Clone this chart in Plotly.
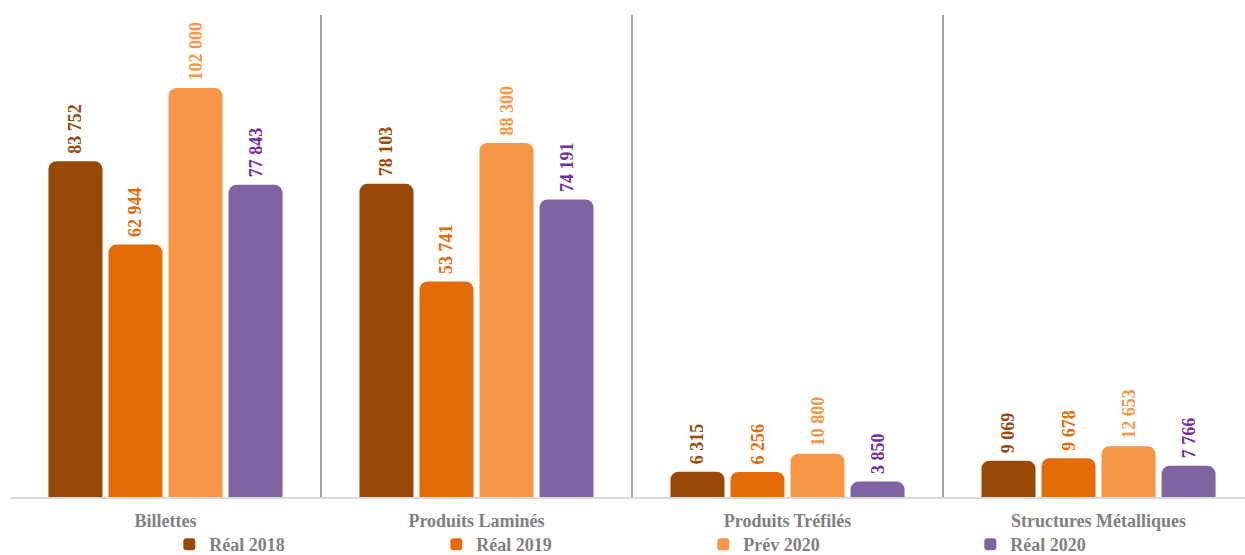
import plotly.graph_objects as go

categories = ["Billettes", "Produits Laminés", "Produits Tréfilés", "Structures Métalliques"]
series_names = ["Réal 2018", "Réal 2019", "Prév 2020", "Réal 2020"]
reel_2018 = [83752, 78103, 6315, 9069]
reel_2019 = [62944, 53741, 6256, 9678]
prev_2020 = [102000, 88300, 10800, 12653]
reel_2020 = [77843, 74191, 3850, 7766]

series_values = [reel_2018, reel_2019, prev_2020, reel_2020]
bar_colors = ["#984807", "#E36C09", "#F79646", "#8064A2"]
label_colors = ["#984807", "#E36C09", "#F79646", "#7030A0"]

SERIF = "Liberation Serif, Times New Roman, serif"

fig = go.Figure()
for name, vals, bc, lc in zip(series_names, series_values, bar_colors, label_colors):
    fig.add_trace(go.Bar(
        name=name,
        x=categories,
        y=vals,
        marker=dict(color=bc, line=dict(width=0)),
        # leading no-break space lifts the rotated label a little off the bar
        texttemplate="\u00a0%{y:,}",
        textposition="outside",
        textangle=-90,
        constraintext="none",
        cliponaxis=False,
        textfont=dict(family=SERIF, size=18, color=lc, weight="bold"),
        hoverinfo="skip",
    ))

fig.update_layout(
    width=1245,
    height=555,
    margin=dict(l=10, r=0, t=15, b=58, autoexpand=False),
    paper_bgcolor="white",
    plot_bgcolor="white",
    barmode="group",
    bargap=0.228,
    bargroupgap=0.1,
    barcornerradius=8,
    separators=". ",
    showlegend=True,
    legend=dict(
        orientation="h",
        xref="container", yref="container",
        x=0.136, xanchor="left",
        y=0.019, yanchor="middle",
        entrywidth=222, entrywidthmode="pixels",
        bgcolor="rgba(0,0,0,0)",
        font=dict(family=SERIF, size=18, color="#7f7f7f", weight="bold"),
        itemclick=False, itemdoubleclick=False,
    ),
    xaxis=dict(
        type="category",
        range=[-0.5, 3.471],
        tickson="boundaries",
        showgrid=True,
        gridcolor="#a6a6a6",
        gridwidth=1.5,
        showline=True,
        linecolor="#d9d9d9",
        linewidth=2,
        ticks="",
        ticklabelstandoff=6,
        tickfont=dict(family=SERIF, size=18, color="#7f7f7f", weight="bold"),
        fixedrange=True,
    ),
    yaxis=dict(
        range=[0, 120200],
        showgrid=False,
        zeroline=False,
        showticklabels=False,
        fixedrange=True,
    ),
)

fig.write_html("out.html")
